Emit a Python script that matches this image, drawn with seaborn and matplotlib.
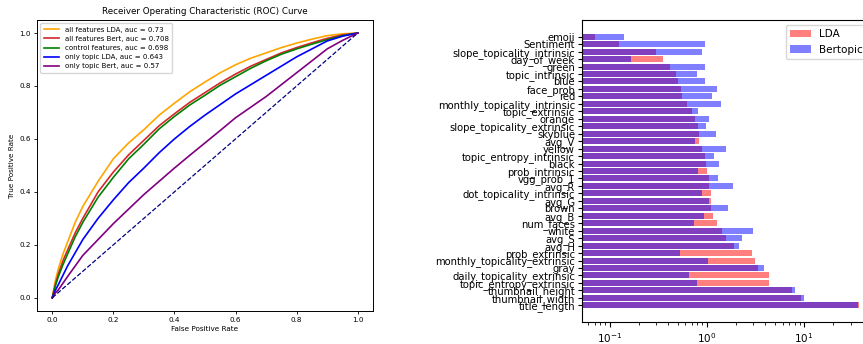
import numpy as np
import pandas as pd
import matplotlib
matplotlib.use("Agg")
import matplotlib.pyplot as plt
import seaborn as sns

# ---------------- ROC data ----------------
fpr = [0.0, 0.01, 0.02, 0.035, 0.05, 0.075, 0.1, 0.15, 0.2, 0.25, 0.3, 0.35, 0.4, 0.45,
       0.5, 0.55, 0.6, 0.65, 0.7, 0.75, 0.8, 0.85, 0.9, 0.95, 1.0]
tpr_all_lda = [0.0, 0.065, 0.11, 0.165, 0.21, 0.285, 0.345, 0.44, 0.525, 0.585, 0.635,
               0.69, 0.735, 0.778, 0.815, 0.85, 0.88, 0.905, 0.925, 0.945, 0.962,
               0.977, 0.99, 0.997, 1.0]
tpr_all_bert = [0.0, 0.05, 0.09, 0.14, 0.18, 0.245, 0.30, 0.40, 0.475, 0.54, 0.595,
                0.65, 0.695, 0.738, 0.775, 0.812, 0.845, 0.875, 0.90, 0.925, 0.945,
                0.963, 0.98, 0.993, 1.0]
tpr_control = [0.0, 0.045, 0.08, 0.125, 0.165, 0.23, 0.285, 0.38, 0.455, 0.525, 0.58,
               0.638, 0.685, 0.728, 0.765, 0.803, 0.835, 0.867, 0.895, 0.92, 0.94,
               0.958, 0.975, 0.99, 1.0]
tpr_topic_lda = [0.0, 0.028, 0.05, 0.085, 0.12, 0.17, 0.22, 0.30, 0.37, 0.435, 0.49,
                 0.548, 0.60, 0.647, 0.69, 0.73, 0.77, 0.805, 0.84, 0.875, 0.91,
                 0.94, 0.97, 0.988, 1.0]
tpr_topic_bert = [0.0, 0.018, 0.03, 0.055, 0.08, 0.12, 0.16, 0.22, 0.28, 0.335, 0.39,
                  0.44, 0.49, 0.538, 0.585, 0.632, 0.68, 0.72, 0.76, 0.805, 0.85,
                  0.895, 0.94, 0.972, 1.0]
roc_labels = ["all features LDA, auc = 0.73", "all features Bert, auc = 0.708",
              "control features, auc = 0.698", "only topic LDA, auc = 0.643",
              "only topic Bert, auc = 0.57"]
roc_colors = ["orange", "#d62728", "green", "blue", "purple"]

# ---------------- Feature importance data ----------------
features = ["emoji", "Sentiment", "slope_topicality_intrinsic", "day_of_week", "green",
            "topic_intrinsic", "blue", "face_prob", "red", "monthly_topicality_intrinsic",
            "topic_extrinsic", "orange", "slope_topicality_extrinsic", "skyblue", "avg_V",
            "yellow", "topic_entropy_intrinsic", "black", "prob_intrinsic", "vgg_prob_1",
            "avg_R", "dot_topicality_intrinsic", "avg_G", "brown", "avg_B", "num_faces",
            "white", "avg_S", "avg_H", "prob_extrinsic", "monthly_topicality_extrinsic",
            "gray", "daily_topicality_extrinsic", "topic_entropy_extrinsic",
            "thumbnail_height", "thumbnail_width", "title_length"]
lda_imp = [0.071, 0.126, 0.30, 0.351, 0.418, 0.477, 0.505, 0.546, 0.558, 0.628,
           0.707, 0.76, 0.81, 0.83, 0.835, 0.895, 0.955, 0.98, 1.0, 1.05,
           1.05, 1.09, 1.09, 1.10, 1.15, 1.26, 1.44, 1.57, 1.92, 2.90,
           3.13, 3.36, 4.40, 4.40, 7.45, 9.2, 36.5]
bert_imp = [0.141, 0.955, 0.895, 0.165, 0.955, 0.79, 0.955, 1.28, 1.13, 1.41,
            0.81, 1.06, 0.98, 1.23, 0.753, 1.58, 1.19, 1.32, 0.81, 1.29,
            1.85, 0.89, 1.04, 1.64, 0.94, 0.74, 2.96, 2.30, 2.13, 0.525,
            1.02, 3.87, 0.65, 0.80, 8.11, 9.88, 35.4]

W, H = 863, 344
fig = plt.figure(figsize=(W / 100, H / 100), dpi=100)

# ---------------- Left: ROC ----------------
ax1 = fig.add_axes([37 / W, (H - 311) / H, (373 - 37) / W, (311 - 19.8) / H])
tprs = [tpr_all_lda, tpr_all_bert, tpr_control, tpr_topic_lda, tpr_topic_bert]
for t, lab, col in zip(tprs, roc_labels, roc_colors):
    sns.lineplot(x=fpr, y=t, color=col, label=lab, ax=ax1, lw=1.2, sort=False, estimator=None)
sns.lineplot(x=[0, 1], y=[0, 1], color="navy", ls="--", lw=0.9, ax=ax1, sort=False,
             estimator=None)
ax1.set_title("Receiver Operating Characteristic (ROC) Curve", fontsize=6.3, pad=4)
ax1.set_xlabel("False Positive Rate", fontsize=5.2, labelpad=2)
ax1.set_ylabel("True Positive Rate", fontsize=5.2, labelpad=3)
ax1.tick_params(labelsize=5.2, length=2.5, width=0.6, pad=2)
for s in ax1.spines.values():
    s.set_linewidth(0.7)
ax1.legend(loc="upper left", fontsize=5.0, handlelength=2.2, borderpad=0.5,
           labelspacing=0.45, framealpha=0.8)

# ---------------- Right: feature importance ----------------
ax2 = fig.add_axes([582 / W, 22 / H, 290 / W, 302 / H])
df = pd.DataFrame({"feature": features, "LDA": lda_imp, "Bertopic": bert_imp})
sns.barplot(data=df, x="LDA", y="feature", color="red", alpha=0.5, saturation=1,
            width=0.8, label="LDA", ax=ax2, orient="h")
sns.barplot(data=df, x="Bertopic", y="feature", color="blue", alpha=0.5, saturation=1,
            width=0.8, label="Bertopic", ax=ax2, orient="h")
ax2.set_xscale("log")
vals = np.log10(np.array(lda_imp + bert_imp))
lo, hi = vals.min(), vals.max()
m = 0.05 * (hi - lo)
ax2.set_xlim(10 ** (lo - m), 10 ** (hi + m))
n = len(features)
span = (n - 1) + 0.8
ax2.set_ylim(n - 1 + 0.4 + 0.05 * span, -0.4 - 0.05 * span)
ax2.set_xlabel("")
ax2.set_ylabel("")
ax2.tick_params(axis="y", labelsize=7.2, length=3, pad=2)
ax2.tick_params(axis="x", labelsize=7.5, pad=3)
ax2.legend(loc="upper right", fontsize=7.5)

fig.savefig("out.png", dpi=100)
